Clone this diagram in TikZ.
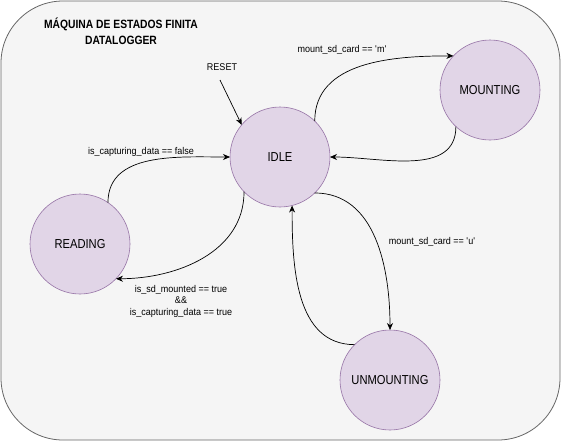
\documentclass[tikz,border=0pt]{standalone}
\usepackage{fontspec}
\setmainfont[FakeStretch=0.86]{Liberation Sans}
\newfontfamily\labelfont[FakeStretch=0.92]{Liberation Sans}
\usetikzlibrary{arrows.meta,positioning}
\definecolor{fsmBack}{HTML}{F5F5F5}
\definecolor{fsmFrame}{HTML}{666666}
\definecolor{fsmFill}{HTML}{E1D5E7}
\definecolor{fsmLine}{HTML}{9673A6}
\newcommand{\q}{\textquotesingle}
\tikzset{
  fsm diagram/.style={
    x=1pt, y=-1pt, line width=0.8pt,
    >={Stealth[length=7pt,width=6pt]},
    every node/.style={font=\labelfont\fontsize{9.8}{11.5}\selectfont,
      text=black, inner sep=0pt, outer sep=0pt}
  },
  fsm state/.style={circle, draw=fsmLine, fill=fsmFill, line width=0.6pt,
    minimum size=100pt, font=\normalfont\fontsize{13}{15}\selectfont},
  fsm edge/.style={->, draw=black, line width=0.7pt}
}

\begin{document}
\begin{tikzpicture}[fsm diagram]
    \useasboundingbox (0,0) rectangle (562,442);
    \draw[fill=fsmBack, draw=fsmFrame, rounded corners=62pt]
      (1,1) rectangle (560,440);
    \node[align=center, font=\normalfont\fontsize{12}{16}\bfseries\selectfont]
      (title) at (121,31) {MÁQUINA DE ESTADOS FINITA\\DATALOGGER};
    % states
    \node[fsm state] (idle) at (280,157) {IDLE};
    \node[fsm state] (mounting) at (490,90) {MOUNTING};
    \node[fsm state] (reading) at (80,244) {READING};
    \node[fsm state] (unmounting) at (390,380) {UNMOUNTING};
    % reset
    \node (reset) at (222,67) {RESET};
    \coordinate (resetStart) at (220,80);
    \draw[fsm edge] (resetStart) -- (idle.140);
    % transitions
    \draw[fsm edge] (idle.46) to[out=90, in=180] (mounting.137);
    \draw[fsm edge] (mounting.227) to[out=270, in=0] (idle.east);
    \draw[fsm edge] (reading.56) to[out=90, in=180] (idle.west);
    \draw[fsm edge] (idle.224) to[out=270, in=0] (reading.316);
    \draw[fsm edge] (idle.314) to[out=0, in=90] (unmounting.north);
    \draw[fsm edge] (unmounting.135) to[out=180, in=270] (idle.284);
    % labels
    \node (lblMount) at (342,50) {mount\_sd\_card == \q m\q};
    \node (lblFalse) at (141,152) {is\_capturing\_data == false};
    \node[align=center] (lblTrue) at (181,301)
      {is\_sd\_mounted == true\\\&\&\\is\_capturing\_data == true};
    \node (lblUnmount) at (432,242) {mount\_sd\_card == \q u\q};
\end{tikzpicture}
\end{document}
